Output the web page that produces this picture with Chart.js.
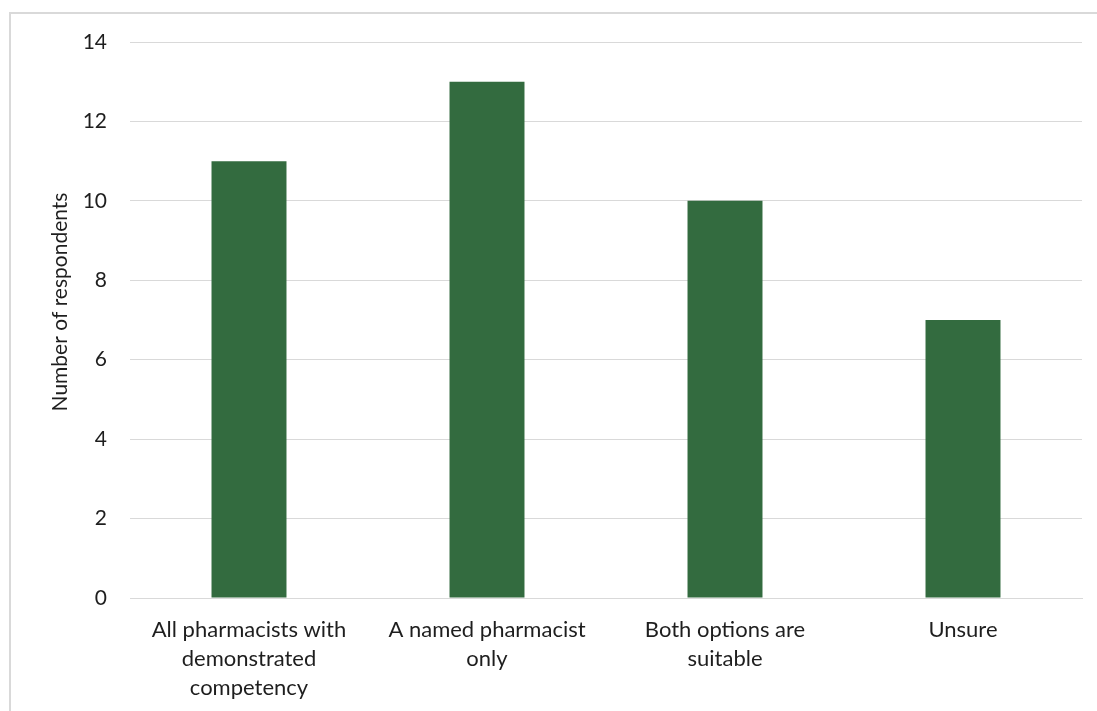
<!DOCTYPE html>
<html>
<head>
<meta charset="utf-8">
<script src="https://cdn.jsdelivr.net/npm/chart.js@4/dist/chart.umd.min.js"></script>
<style>
  html, body { margin: 0; padding: 0; background: #fff; }
  #wrap { width: 1097px; height: 711px; }
</style>
</head>
<body>
<div id="wrap"><canvas id="grafico" width="1097" height="711"></canvas></div>
<script>
// categorias e valores
const categorias = [
    ['All pharmacists with', 'demonstrated', 'competency'],
    ['A named pharmacist', 'only'],
    ['Both options are', 'suitable'],
    ['Unsure']
];
const respondentes = [11, 13, 10, 7];
const tituloEixoY = 'Number of respondents';
const eixoYMax = 14;
const eixoYPasso = 2;

const FONTE = 'Lato, "Open Sans", sans-serif';
const COR_TEXTO = '#1e1e1e';
const COR_GRADE = '#d9d9d9';

// moldura cinza e título vertical do eixo Y
const moldura = {
    id: 'moldura',
    beforeDraw(chart) {
        const ctx = chart.ctx;
        ctx.save();
        ctx.strokeStyle = COR_GRADE;
        ctx.lineWidth = 2;
        ctx.strokeRect(10, 13, 1400, 1000);
        ctx.restore();
    },
    afterDraw(chart) {
        const ctx = chart.ctx;
        ctx.save();
        ctx.translate(60, 302);
        ctx.rotate(-Math.PI / 2);
        ctx.font = '21px ' + FONTE;
        ctx.fillStyle = COR_TEXTO;
        ctx.textAlign = 'center';
        ctx.textBaseline = 'middle';
        ctx.fillText(tituloEixoY, 0, 0);
        ctx.restore();
    }
};

const ctx = document.getElementById('grafico').getContext('2d');
new Chart(ctx, {
    type: 'bar',
    data: {
        labels: categorias,
        datasets: [{
            data: respondentes,
            backgroundColor: '#336b3f',
            borderWidth: 0,
            categoryPercentage: 1,
            barPercentage: 0.315
        }]
    },
    options: {
        responsive: false,
        animation: false,
        layout: { padding: { top: 42, right: 15, left: 0, bottom: 0 } },
        plugins: { legend: { display: false }, tooltip: { enabled: false } },
        scales: {
            x: {
                grid: { display: false, drawTicks: false },
                border: { display: true, color: COR_GRADE, width: 1 },
                ticks: {
                    color: COR_TEXTO,
                    padding: 17,
                    maxRotation: 0,
                    autoSkip: false,
                    font: { family: FONTE, size: 22, lineHeight: 1.32 }
                },
                afterFit(scale) { scale.height = 113; }
            },
            y: {
                min: 0,
                max: eixoYMax,
                ticks: {
                    stepSize: eixoYPasso,
                    color: COR_TEXTO,
                    padding: 23,
                    font: { family: FONTE, size: 21 }
                },
                grid: { color: COR_GRADE, lineWidth: 1, drawTicks: false },
                border: { display: false },
                afterFit(scale) { scale.width = 130; }
            }
        }
    },
    plugins: [moldura]
});
</script>
</body>
</html>
